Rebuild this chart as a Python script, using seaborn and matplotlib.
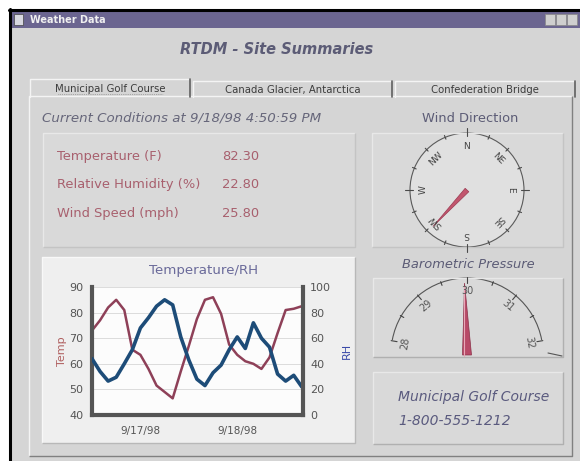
import numpy as np
import pandas as pd
import matplotlib
matplotlib.use("Agg")
import matplotlib.pyplot as plt
import matplotlib.patches as mpatches
import seaborn as sns

# data (2 hour steps from 9/16/98 12:00)
hours = list(range(0, 54, 2))
temp_f = [73, 77, 82, 85, 81, 65.5, 63.5, 58, 51.5, 49,
          46.5, 57, 67, 77.5, 85, 86, 79.5, 67.5, 63.5, 61,
          60, 58, 62.5, 72, 81, 81.5, 82.5]
rh_pct = [44, 34, 26.5, 29.5, 40, 51, 68, 76, 85, 90,
          86, 61, 43, 28, 23, 33, 39, 51, 61, 52,
          72, 60, 53, 32, 26.5, 31, 22]
xtick_dates = ["1998-09-17", "1998-09-18"]
xtick_labels = ["9/17/98", "9/18/98"]

# current conditions panel
cond_labels = ["Temperature (F)", "Relative Humidity (%)", "Wind Speed (mph)"]
cond_values = ["82.30", "22.80", "25.80"]
tab_names = ["Municipal Golf Course", "Canada Glacier, Antarctica", "Confederation Bridge"]
compass_points = ["N", "NE", "E", "SE", "S", "SW", "W", "NW"]
wind_bearing = 223
baro_labels = ["28", "29", "30", "31", "32"]
baro_value = 29.95

start = pd.Timestamp("1998-09-16 12:00")
df = pd.DataFrame({
    "time": start + pd.to_timedelta(hours, unit="h"),
    "temp": temp_f,
    "rh": rh_pct,
})

sns.set_style("white")
plt.rcParams["font.family"] = ["DejaVu Sans"]

fig = plt.figure(figsize=(5.8, 4.61), dpi=100, facecolor="white")
bg = fig.add_axes([0, 0, 1, 1])
bg.set_xlim(0, 580)
bg.set_ylim(461, 0)
bg.axis("off")

BODY = "#d5d5d5"
TXT = "#5c5c76"


def box(x0, y0, x1, y1, fc, light="#f2f2f2", dark="#8c8c8c", lw=1.0):
    bg.add_patch(mpatches.Rectangle((x0, y0), x1 - x0, y1 - y0, fc=fc, ec="none"))
    bg.plot([x0, x0, x1], [y1, y0, y0], color=light, lw=lw, solid_capstyle="butt")
    bg.plot([x1, x1, x0], [y0, y1, y1], color=dark, lw=lw, solid_capstyle="butt")


# window frame and title bar
bg.add_patch(mpatches.Rectangle((11, 11), 569, 450, fc=BODY, ec="none"))
bg.plot([10, 10], [9, 461], color="black", lw=2.2)
bg.plot([9, 580], [10, 10], color="black", lw=2.2)
bg.add_patch(mpatches.Rectangle((12, 12), 568, 16, fc="#6b6590", ec="none"))
bg.add_patch(mpatches.Rectangle((14, 14), 9, 11, fc="#d8d8e0", ec="#444", lw=0.5))
bg.text(30, 20, "Weather Data", color="#f0f0f0", fontsize=7, weight="bold", va="center")
for bx in [545, 556, 567]:
    bg.add_patch(mpatches.Rectangle((bx, 14), 10, 11, fc="#cfcfcf", ec="#888", lw=0.5))

bg.text(277, 50, "RTDM - Site Summaries", fontsize=10.5, style="italic", weight="bold",
        color=TXT, ha="center", va="center")

# tabs and tab panel
box(29, 96, 572, 456, BODY, light="#f4f4f4", dark="#808080")
tabs = [(30, 79, 190, 97), (193, 81, 392, 97), (395, 81, 575, 97)]
for i, (x0, y0, x1, y1) in enumerate(tabs):
    bg.add_patch(mpatches.Rectangle((x0, y0), x1 - x0, y1 - y0, fc=BODY, ec="none"))
    bg.plot([x0, x0, x1], [y1, y0, y0], color="#f4f4f4", lw=1)
    bg.plot([x1, x1], [y0, y1], color="#606060", lw=1.2)
    bg.text((x0 + x1) / 2, (y0 + y1) / 2 + 1, tab_names[i], fontsize=7.3,
            color="#3c3c3c", ha="center", va="center")
bg.plot([58, 163], [94, 94], color="#777", lw=0.5, ls=":")

# current conditions
bg.text(42, 118, "Current Conditions at 9/18/98 4:50:59 PM", fontsize=9.6,
        style="italic", color="#66667a", va="center")
box(43, 133, 355, 247, "#d9d9d9", light="#e8e8e8", dark="#c4c4c4")
for i, (lab, val) in enumerate(zip(cond_labels, cond_values)):
    yy = 156 + i * 28.5
    bg.text(57, yy, lab, fontsize=9.4, color="#a8606e", va="center")
    bg.text(222, yy, val, fontsize=9.4, color="#a8606e", va="center")

# wind direction compass
bg.text(470, 118, "Wind Direction", fontsize=9.4, color=TXT, ha="center", va="center")
box(372, 133, 563, 247, "#d9d9d9", light="#e8e8e8", dark="#c4c4c4")
cx, cy, r = 467, 190, 57
bg.add_patch(mpatches.Circle((cx, cy), r, fc="#e0e0e0", ec="#5a5a5a", lw=0.8))
for k in range(16):
    b = np.radians(k * 22.5)
    r0, r1 = (r - 3, r + 5) if k % 4 == 0 else (r - 2, r + 2)
    bg.plot([cx + r0 * np.sin(b), cx + r1 * np.sin(b)],
            [cy - r0 * np.cos(b), cy - r1 * np.cos(b)], color="#4a4a4a", lw=0.8)
for k, name in enumerate(compass_points):
    b = np.radians(k * 45)
    bg.text(cx + 44 * np.sin(b), cy - 44 * np.cos(b), name, fontsize=6.5,
            color="#444", ha="center", va="center", rotation=-k * 45)
wb = np.radians(wind_bearing)
tip = (cx + 50 * np.sin(wb), cy - 50 * np.cos(wb))
px, py = np.cos(wb) * 2.5, np.sin(wb) * 2.5
bg.add_patch(mpatches.Polygon([(cx + px, cy + py), tip, (cx - px, cy - py)],
                              fc="#c2566e", ec="#9a3a52", lw=0.5))

# temperature / RH chart panel
box(42, 257, 355, 443, "#efefef", light="#f8f8f8", dark="#b8b8b8")
bg.text(204, 270, "Temperature/RH", fontsize=9.6, color="#6a6a9a", ha="center", va="center")

# barometric pressure gauge
bg.text(468, 264, "Barometric Pressure", fontsize=9.4, style="italic", color=TXT,
        ha="center", va="center")
box(373, 278, 563, 357, "#d9d9d9", light="#e8e8e8", dark="#b0b0b0")
gx, gy, gr = 467, 354, 76
bg.add_patch(mpatches.Arc((gx, gy), 2 * gr, 2 * gr, theta1=190.6, theta2=349.4,
                          color="#555", lw=0.8))
for k in range(9):
    a = np.radians(170 - k * 20)
    r0, r1 = (gr - 5, gr + 1) if k % 2 == 0 else (gr - 3, gr + 1)
    bg.plot([gx + r0 * np.cos(a), gx + r1 * np.cos(a)],
            [gy - r0 * np.sin(a), gy - r1 * np.sin(a)], color="#444", lw=0.8)
for k, lab in enumerate(baro_labels):
    a = 170 - k * 40
    ar = np.radians(a)
    bg.text(gx + 63 * np.cos(ar), gy - 63 * np.sin(ar), lab, fontsize=7, color="#555",
            ha="center", va="center", rotation=a - 90)
na = np.radians(170 - (baro_value - 28) * 40)
ntip = (gx + 71 * np.cos(na), gy - 71 * np.sin(na))
bg.plot([gx - 3, gx - 3], [286, 356], color="#e8a8b8", lw=0.8)
bg.add_patch(mpatches.Polygon([(gx - 4.5, gy + 1), ntip, (gx + 4.5, gy + 1)],
                              fc="#b84a68", ec="#8a3048", lw=0.5))
bg.plot([548, 562], [353, 356], color="#555", lw=0.8)

# site info box
box(373, 372, 563, 444, "#d9d9d9", light="#e8e8e8", dark="#b0b0b0")
bg.text(398, 397, "Municipal Golf Course", fontsize=10, style="italic", color="#5a5a7e",
        va="center")
bg.text(398, 421, "1-800-555-1212", fontsize=10, style="italic", color="#5a5a7e",
        va="center")

# the line chart itself
ax = fig.add_axes([92 / 580, (461 - 415) / 461, 211 / 580, 128 / 461])
ax.set_facecolor("#fcfcfc")
sns.lineplot(data=df, x="time", y="temp", ax=ax, color="#8e4058", lw=1.8)
ax2 = ax.twinx()
sns.lineplot(data=df, x="time", y="rh", ax=ax2, color="#1d4c78", lw=2.6)

ax.set_xlim(start, start + pd.Timedelta(hours=52.3))
ax.set_ylim(40, 90)
ax.set_yticks(range(40, 91, 10))
ax2.set_ylim(0, 100)
ax2.set_yticks(range(0, 101, 20))
ax.set_xticks(pd.to_datetime(xtick_dates))
ax.set_xticklabels(xtick_labels)
ax.grid(axis="y", color="#dcdcdc", lw=0.7)
ax.set_axisbelow(True)

ax.set_xlabel("")
ax2.set_xlabel("")
ax.set_ylabel("Temp", color="#b06060", fontsize=8, labelpad=2)
ax2.set_ylabel("RH", color="#3a4aa8", fontsize=8, labelpad=8)
ax.tick_params(axis="y", labelsize=8, labelcolor="#555", length=0, pad=6)
ax.tick_params(axis="x", labelsize=7.5, labelcolor="#555", length=0, pad=8)
ax2.tick_params(axis="y", labelsize=8, labelcolor="#555", length=0, pad=5)

for s in ["top", "right"]:
    ax.spines[s].set_visible(False)
for s in ["top", "left", "bottom"]:
    ax2.spines[s].set_visible(False)
ax.spines["left"].set_color("#555")
ax.spines["left"].set_linewidth(3)
ax.spines["bottom"].set_color("#555")
ax.spines["bottom"].set_linewidth(3)
ax2.spines["right"].set_color("#555")
ax2.spines["right"].set_linewidth(3)

fig.savefig("out.png", dpi=100)
